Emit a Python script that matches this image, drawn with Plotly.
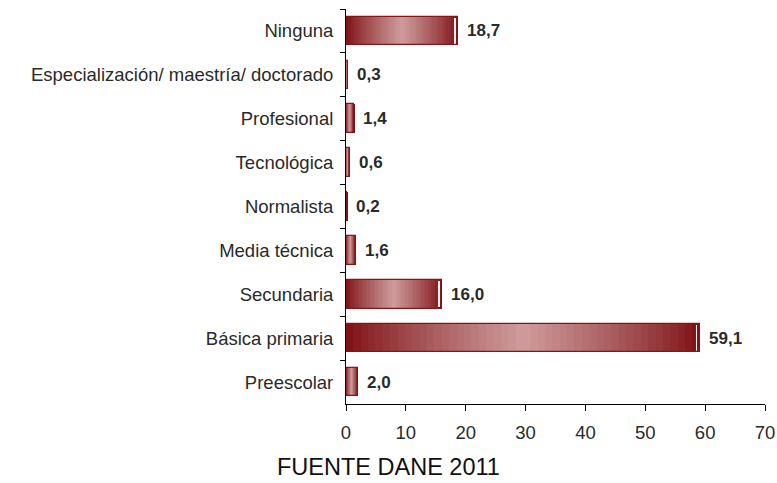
import plotly.graph_objects as go

# Nivel educativo alcanzado (%)
categorias = [
    "Ninguna",
    "Especialización/ maestría/ doctorado",
    "Profesional",
    "Tecnológica",
    "Normalista",
    "Media técnica",
    "Secundaria",
    "Básica primaria",
    "Preescolar",
]
valores = [18.7, 0.3, 1.4, 0.6, 0.2, 1.6, 16.0, 59.1, 2.0]
etiquetas = [f"{v:.1f}".replace(".", ",") for v in valores]
ticks_x = [0, 10, 20, 30, 40, 50, 60, 70]

OSCURO = (125, 14, 18)
CLARO = (206, 156, 156)
BORDE = "rgb(135,20,22)"
ANCHO = 0.65
N_SEG = 48
FUENTE = "Liberation Sans, Arial, sans-serif"
TEXTO = "#2a2a2a"


def color_en(t):
    # degradado simétrico: oscuro en los extremos, claro al centro
    w = 1 - abs(2 * t - 1)
    w = w ** 0.85
    r, g, b = (round(OSCURO[i] + (CLARO[i] - OSCURO[i]) * w) for i in range(3))
    return f"rgb({r},{g},{b})"


fig = go.Figure()

# relleno en degradado: cada barra se reparte en tramos iguales de su valor
for k in range(N_SEG):
    t = (k + 0.5) / N_SEG
    fig.add_trace(go.Bar(
        y=categorias,
        x=[v / N_SEG for v in valores],
        base=[v * k / N_SEG for v in valores],
        orientation="h",
        width=ANCHO,
        marker=dict(color=color_en(t), line=dict(width=0)),
        hoverinfo="skip",
        showlegend=False,
    ))

# reflejo blanco cerca del extremo derecho
fig.add_trace(go.Bar(
    y=categorias,
    x=[0.22 if v >= 5 else 0 for v in valores],
    base=[v - 0.6 for v in valores],
    orientation="h",
    width=ANCHO * 0.9,
    marker=dict(color="rgba(255,255,255,0.95)", line=dict(width=0)),
    hoverinfo="skip",
    showlegend=False,
))

# contorno de cada barra
fig.add_trace(go.Bar(
    y=categorias,
    x=valores,
    orientation="h",
    width=ANCHO,
    marker=dict(color="rgba(0,0,0,0)", line=dict(color=BORDE, width=1.3)),
    showlegend=False,
))

# etiquetas de valor
for cat, v, txt in zip(categorias, valores, etiquetas):
    fig.add_annotation(
        x=v, y=cat, text=f"<b>{txt}</b>", showarrow=False,
        xanchor="left", xshift=7,
        font=dict(family=FUENTE, size=17, color=TEXTO),
    )

# fuente de los datos, bajo el eje
fig.add_annotation(
    x=0.1016, y=-0.1955, xref="paper", yref="paper",
    xanchor="center", yanchor="bottom", borderpad=0,
    text="FUENTE DANE 2011", showarrow=False,
    font=dict(family=FUENTE, size=23.5, color="#111111"),
)

fig.update_layout(
    width=777, height=483,
    margin=dict(l=346, r=12, t=9, b=79, autoexpand=False),
    barmode="overlay",
    bargap=0,
    plot_bgcolor="white",
    paper_bgcolor="white",
    font=dict(family=FUENTE, size=18, color=TEXTO),
    xaxis=dict(
        range=[0, 70], tickvals=ticks_x, ticktext=[str(t) for t in ticks_x],
        showgrid=False, zeroline=False, automargin=False,
        showline=True, linecolor="black", linewidth=1,
        ticks="outside", ticklen=6, tickcolor="black",
        ticklabelstandoff=6,
        tickfont=dict(family=FUENTE, size=18.5, color=TEXTO),
    ),
    yaxis=dict(
        categoryorder="array", categoryarray=categorias,
        autorange="reversed", automargin=False,
        showgrid=False, zeroline=False,
        showline=True, linecolor="black", linewidth=1,
        ticks="outside", ticklen=5, tickcolor="black",
        tickson="boundaries",
        ticklabelstandoff=8,
        tickfont=dict(family=FUENTE, size=18.5, color=TEXTO),
    ),
)

fig.write_html("out.html")
